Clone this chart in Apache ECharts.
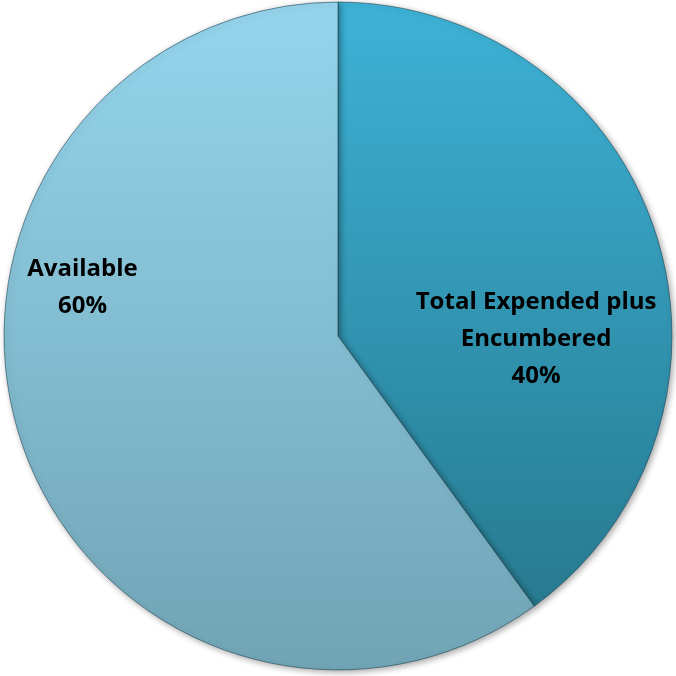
<!DOCTYPE html>
<html>
<head>
<meta charset="utf-8">
<script src="https://cdn.jsdelivr.net/npm/echarts@6/dist/echarts.min.js"></script>
<style>
  html, body { margin: 0; padding: 0; background: #ffffff; }
  #chart { width: 676px; height: 676px; }
</style>
</head>
<body>
<div id="chart"></div>
<script>
// Budget split shown as a two-slice pie
const categories = ['Total Expended plus\nEncumbered', 'Available'];
const values = [40, 60];
const percentLabels = ['40%', '60%'];

// Top/bottom colours of each slice's vertical gradient
const sliceTop = ['#3db2d6', '#95d5ec'];
const sliceBottom = ['#277a90', '#70a4b5'];

// Label anchor points (fraction of chart width/height)
const labelAnchor = [[0.793, 0.502], [0.122, 0.426]];

const chart = echarts.init(document.getElementById('chart'), null, { renderer: 'canvas' });

const data = categories.map((name, i) => ({
  name: name,
  value: values[i],
  itemStyle: {
    color: new echarts.graphic.LinearGradient(0, 0, 0, 1, [
      { offset: 0, color: sliceTop[i] },
      { offset: 1, color: sliceBottom[i] }
    ], false)
  }
}));

chart.setOption({
  animation: false,
  backgroundColor: '#ffffff',
  series: [{
    type: 'pie',
    center: ['50%', '49.7%'],
    radius: '98.8%',
    startAngle: 90,
    clockwise: true,
    data: data,
    itemStyle: {
      borderColor: 'rgba(20,60,75,0.55)',
      borderWidth: 1,
      shadowColor: 'rgba(0,0,0,0.35)',
      shadowBlur: 6,
      shadowOffsetX: 2,
      shadowOffsetY: 2
    },
    label: {
      show: true,
      position: 'inside',
      formatter: p => p.name + '\n' + percentLabels[p.dataIndex],
      color: '#000000',
      fontFamily: 'Open Sans',
      fontWeight: 'bold',
      fontSize: 24,
      lineHeight: 37,
      align: 'center'
    },
    labelLine: { show: false },
    labelLayout: function (params) {
      const a = labelAnchor[params.dataIndex];
      return {
        x: chart.getWidth() * a[0],
        y: chart.getHeight() * a[1],
        align: 'center',
        verticalAlign: 'middle'
      };
    },
    emphasis: { disabled: true }
  }]
});
</script>
</body>
</html>
